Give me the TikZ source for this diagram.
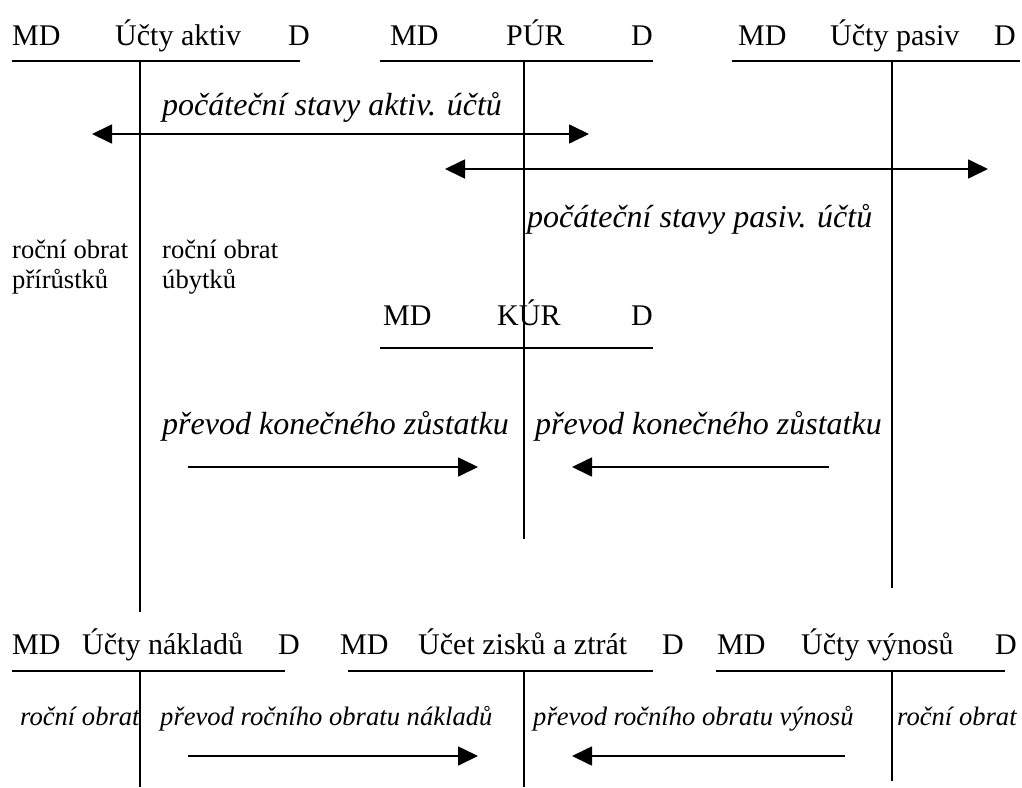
\documentclass[tikz,border=0pt]{standalone}
\usepackage{fontspec}
\setmainfont{Liberation Serif}
\usetikzlibrary{arrows.meta}
\begin{document}
\begin{tikzpicture}[x=1pt,y=-1pt,
  hdr/.style={anchor=base west,inner sep=0pt,font=\fontsize{30}{36}\selectfont},
  lbl/.style={anchor=base west,inner sep=0pt,font=\fontsize{32}{36}\selectfont\itshape},
  sml/.style={anchor=base west,inner sep=0pt,font=\fontsize{26.6}{30}\selectfont},
  bl/.style={anchor=base west,inner sep=0pt,font=\fontsize{26.6}{30}\selectfont\itshape},
  rule/.style={line width=1.7pt},
  flow/.style={line width=1.7pt,-{Triangle[length=20pt,width=19pt]}},
  both/.style={line width=1.7pt,{Triangle[length=20pt,width=19pt]}-{Triangle[length=20pt,width=19pt]}}]
\useasboundingbox (0,0) rectangle (1022,787);

% ---- top row: assets, opening balance account, liabilities ----
\node[hdr] (aMD) at (12,45) {MD};
\node[hdr] (aT) at (115,45) {Účty aktiv};
\node[hdr] (aD) at (288,45) {D};
\node[hdr] (oMD) at (390,45) {MD};
\node[hdr] (oT) at (506,45) {PÚR};
\node[hdr] (oD) at (631,45) {D};
\node[hdr] (pMD) at (738,45) {MD};
\node[hdr] (pT) at (830,45) {Účty pasiv};
\node[hdr] (pD) at (994,45) {D};

\coordinate (aL) at (12,61);  \coordinate (aR) at (300,61);
\coordinate (aTop) at (140,61); \coordinate (aBot) at (140,612);
\coordinate (oL) at (380,61); \coordinate (oR) at (653,61);
\coordinate (oTop) at (524,61); \coordinate (oBot) at (524,539);
\coordinate (pL) at (732,61); \coordinate (pR) at (1020,61);
\coordinate (pTop) at (892,61); \coordinate (pBot) at (892,588);
\draw[rule] (aL) -- (aR) (aTop) -- (aBot);
\draw[rule] (oL) -- (oR) (oTop) -- (oBot);
\draw[rule] (pL) -- (pR) (pTop) -- (pBot);

% opening balances
\node[lbl] (os1) at (162,115) {počáteční stavy aktiv. účtů};
\coordinate (s1a) at (92,134); \coordinate (s1b) at (589,134);
\draw[both] (s1a) -- (s1b);
\coordinate (s2a) at (445,169); \coordinate (s2b) at (988,169);
\draw[both] (s2a) -- (s2b);
\node[lbl] (os2) at (527,227) {počáteční stavy pasiv. účtů};

% yearly turnover
\node[sml] (t1) at (12,258) {roční obrat};
\node[sml] (t2) at (12,288) {přírůstků};
\node[sml] (t3) at (162,258) {roční obrat};
\node[sml] (t4) at (162,288) {úbytků};

% ---- closing balance account ----
\node[hdr] (cMD) at (383,325) {MD};
\node[hdr] (cT) at (497,325) {KÚR};
\node[hdr] (cD) at (631,325) {D};
\coordinate (cL) at (380,348); \coordinate (cR) at (653,348);
\draw[rule] (cL) -- (cR);

\node[lbl] (k1) at (162,434) {převod konečného zůstatku};
\node[lbl] (k2) at (535,434) {převod konečného zůstatku};
\coordinate (k1a) at (188,467); \coordinate (k1b) at (478,467);
\coordinate (k2a) at (829,467); \coordinate (k2b) at (572,467);
\draw[flow] (k1a) -- (k1b);
\draw[flow] (k2a) -- (k2b);

% ---- bottom row: costs, profit and loss, revenues ----
\node[hdr] (nMD) at (12,654) {MD};
\node[hdr] (nT) at (82,654) {Účty nákladů};
\node[hdr] (nD) at (278,654) {D};
\node[hdr] (zMD) at (340,654) {MD};
\node[hdr] (zT) at (418,654) {Účet zisků a ztrát};
\node[hdr] (zD) at (662,654) {D};
\node[hdr] (vMD) at (717,654) {MD};
\node[hdr] (vT) at (801,654) {Účty výnosů};
\node[hdr] (vD) at (995,654) {D};

\coordinate (nL) at (12,671); \coordinate (nR) at (285,671);
\coordinate (nTop) at (140,671); \coordinate (nBot) at (140,787);
\coordinate (zL) at (348,671); \coordinate (zR) at (653,671);
\coordinate (zTop) at (524,671); \coordinate (zBot) at (524,787);
\coordinate (vL) at (716,671); \coordinate (vR) at (1005,671);
\coordinate (vTop) at (892,671); \coordinate (vBot) at (892,781);
\draw[rule] (nL) -- (nR) (nTop) -- (nBot);
\draw[rule] (zL) -- (zR) (zTop) -- (zBot);
\draw[rule] (vL) -- (vR) (vTop) -- (vBot);

\node[bl] (r1) at (20,725) {roční obrat};
\node[bl] (r2) at (160,725) {převod ročního obratu nákladů};
\node[bl] (r3) at (533,725) {převod ročního obratu výnosů};
\node[bl] (r4) at (897,725) {roční obrat};
\coordinate (r2a) at (188,756); \coordinate (r2b) at (478,756);
\coordinate (r3a) at (845,756); \coordinate (r3b) at (572,756);
\draw[flow] (r2a) -- (r2b);
\draw[flow] (r3a) -- (r3b);
\end{tikzpicture}
\end{document}
